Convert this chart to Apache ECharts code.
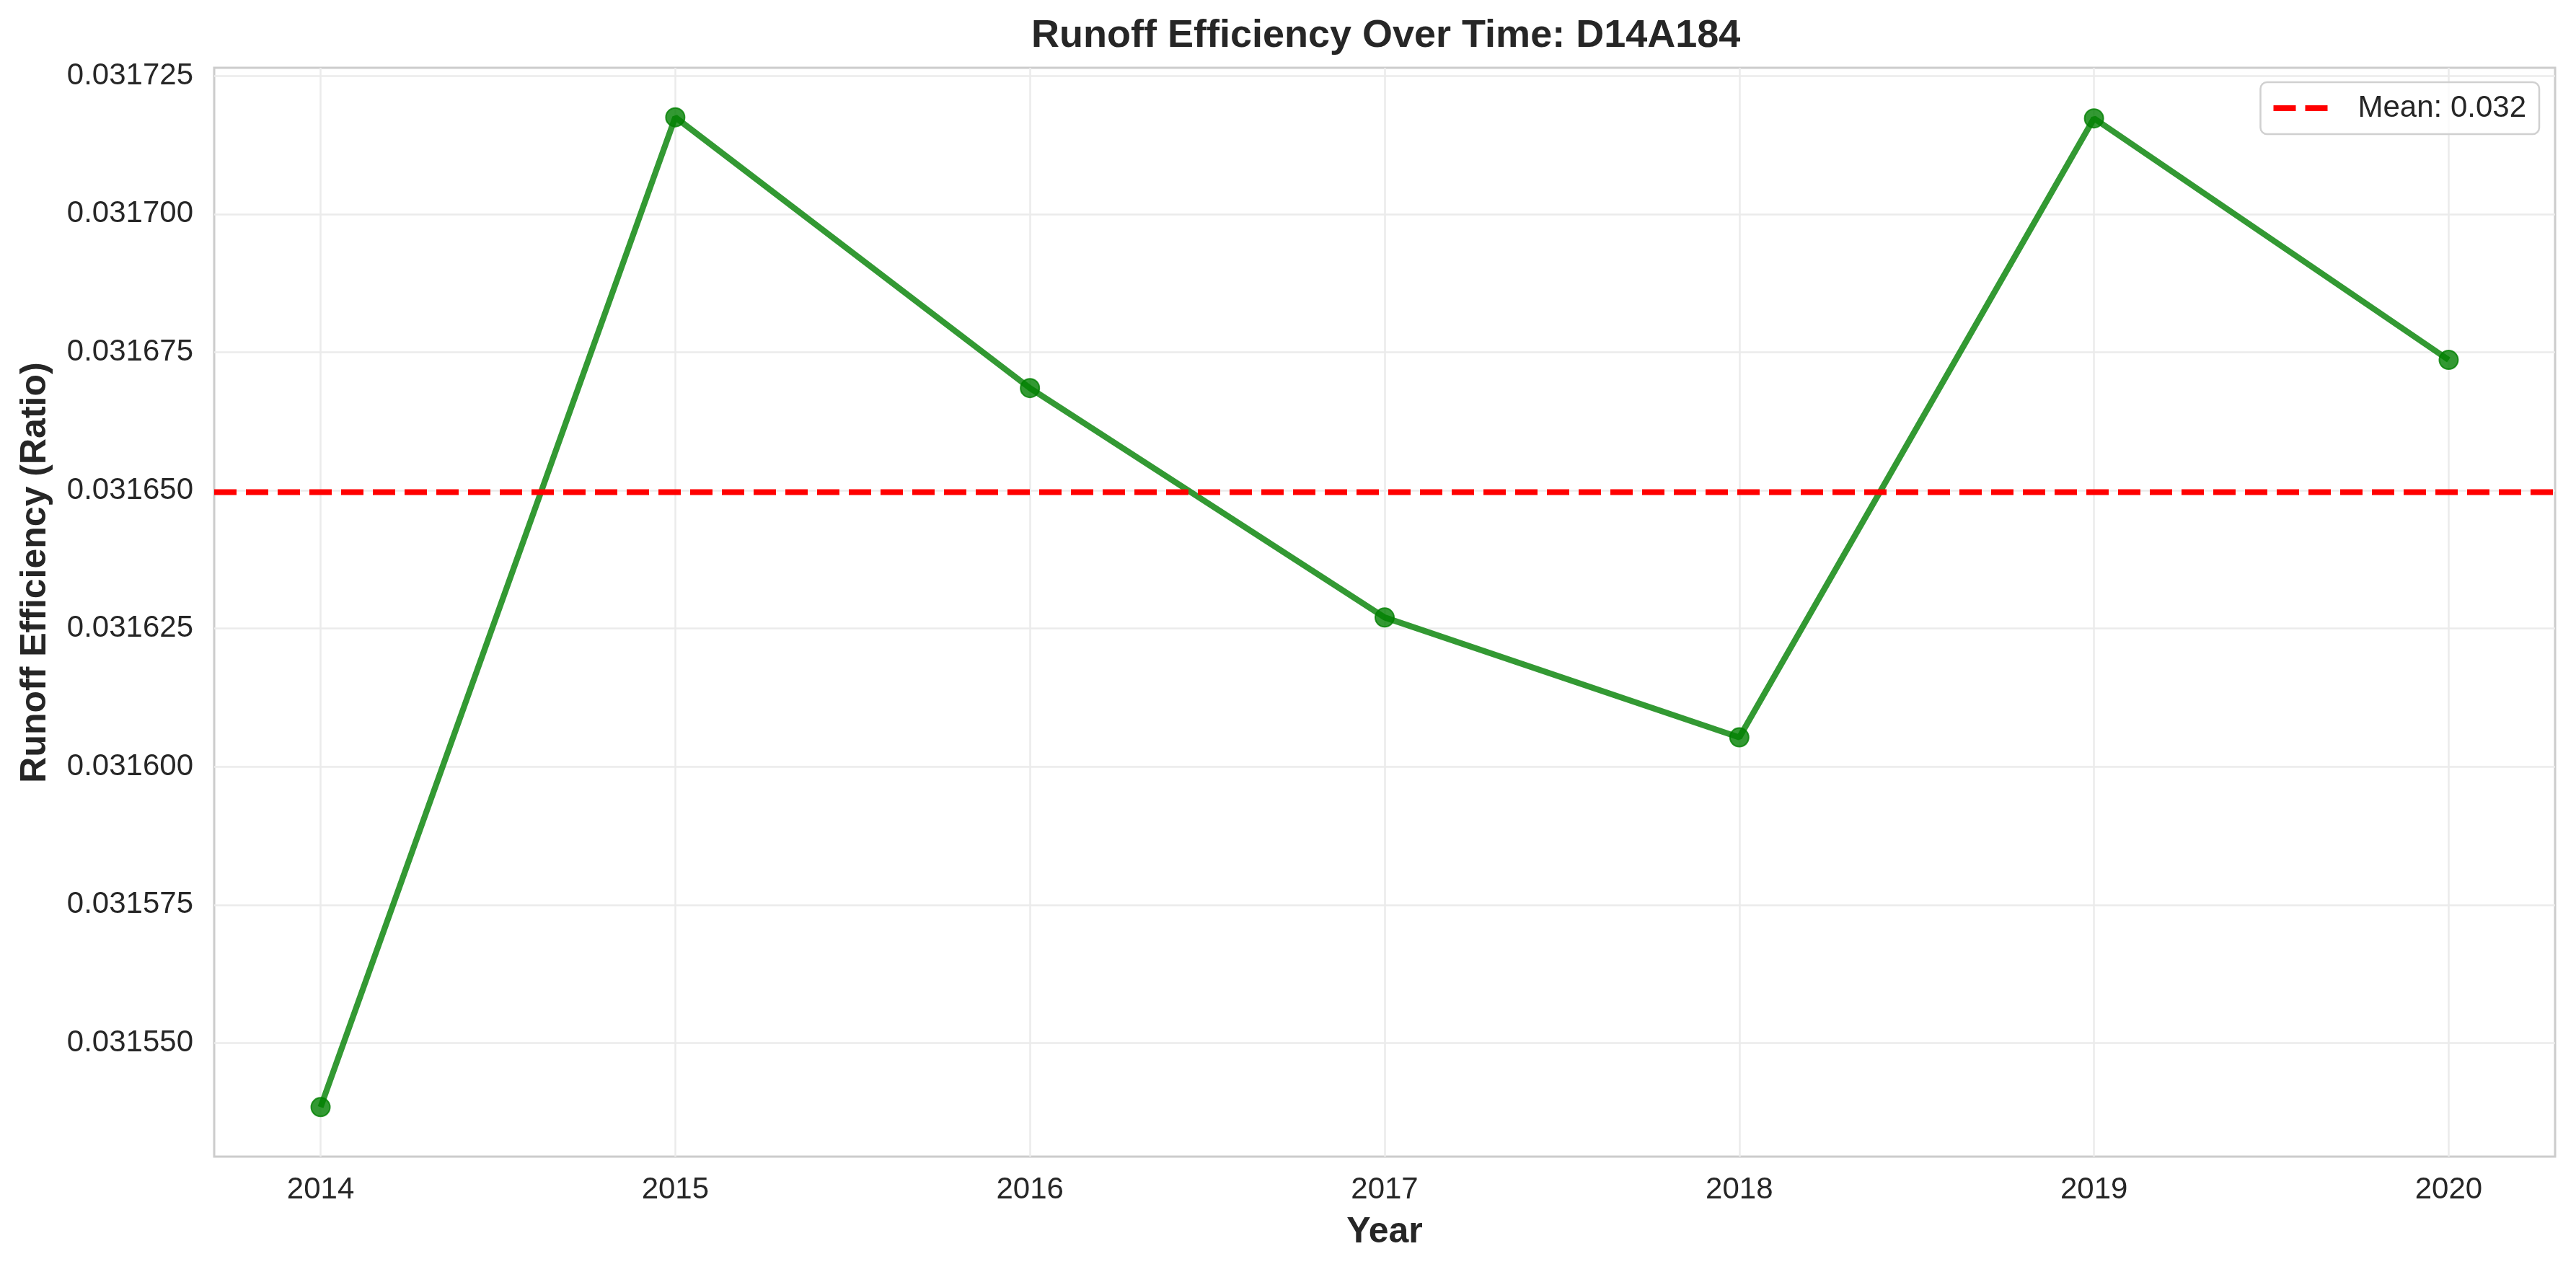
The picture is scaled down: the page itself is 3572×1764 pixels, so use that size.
<!DOCTYPE html>
<html>
<head>
<meta charset="utf-8">
<title>Runoff Efficiency Over Time: D14A184</title>
<script src="https://cdn.jsdelivr.net/npm/echarts@6/dist/echarts.min.js"></script>
<style>
  html, body { margin: 0; padding: 0; background: #fff; }
  #chart { width: 3572px; height: 1764px; }
</style>
</head>
<body>
<div id="chart"></div>
<script>
// values
const years = [2014, 2015, 2016, 2017, 2018, 2019, 2020];
const efficiency = [0.0315384, 0.0317175, 0.0316685, 0.0316270, 0.0316053, 0.0317173, 0.0316736];
const yTicks = [0.031550, 0.031575, 0.031600, 0.031625, 0.031650, 0.031675, 0.031700, 0.031725];

const FONT = 'Liberation Sans, Arial, sans-serif';
const INK = '#262626';

const mean = efficiency.reduce((a, b) => a + b, 0) / efficiency.length;
const meanName = 'Mean: ' + mean.toFixed(3);

// matplotlib style 5% margins around the data
const yLo = Math.min(...efficiency), yHi = Math.max(...efficiency);
const yPad = (yHi - yLo) * 0.05;
const xPad = (years[years.length - 1] - years[0]) * 0.05;
const xMin = years[0] - xPad, xMax = years[years.length - 1] + xPad;

const chart = echarts.init(document.getElementById('chart'));
chart.setOption({
    animation: false,
    backgroundColor: '#ffffff',
    title: {
        text: 'Runoff Efficiency Over Time: D14A184',
        left: 1430,
        top: 23,
        padding: 0,
        textStyle: { fontFamily: FONT, fontSize: 54, fontWeight: 'bold', color: INK },
    },
    legend: {
        data: [meanName],
        right: 51,
        top: 114,
        padding: [15, 18],
        icon: 'path://M0,0h31v8h-31z M44,0h31v8h-31z',
        itemWidth: 75,
        itemHeight: 8,
        backgroundColor: 'rgba(255,255,255,0.8)',
        borderColor: '#d0d0d0',
        borderWidth: 2.5,
        borderRadius: 9,
        textStyle: { fontFamily: FONT, fontSize: 42, color: INK, padding: [0, 0, 0, 37] },
    },
    grid: {
        left: 297, right: 29, top: 94, bottom: 160,
        show: true,
        borderColor: '#cccccc',
        borderWidth: 3,
        containLabel: false,
    },
    xAxis: {
        type: 'value',
        min: xMin,
        max: xMax,
        name: 'Year',
        nameLocation: 'middle',
        nameGap: 80,
        nameTextStyle: { fontFamily: FONT, fontSize: 50, fontWeight: 'bold', color: INK },
        axisLine: { show: false },
        axisTick: { show: false, customValues: years },
        axisLabel: {
            customValues: years,
            margin: 25,
            fontFamily: FONT, fontSize: 42, color: INK,
            formatter: v => String(Math.round(v)),
        },
        splitLine: { show: true, lineStyle: { color: '#ebebeb', width: 2.5 } },
    },
    yAxis: {
        type: 'value',
        min: yLo - yPad,
        max: yHi + yPad,
        name: 'Runoff Efficiency (Ratio)',
        nameLocation: 'middle',
        nameGap: 223,
        nameTextStyle: {
            fontFamily: FONT, fontSize: 50, fontWeight: 'bold', color: INK,
            padding: [0, 0, 0, 110],
        },
        axisLine: { show: false },
        axisTick: { show: false, customValues: yTicks },
        axisLabel: {
            customValues: yTicks,
            margin: 29,
            fontFamily: FONT, fontSize: 42, color: INK,
            formatter: v => v.toFixed(6),
        },
        splitLine: { show: true, lineStyle: { color: '#ebebeb', width: 2.5 } },
    },
    series: [
        {
            // horizontal mean line across the whole plot (axhline)
            name: meanName,
            type: 'line',
            data: [[xMin, mean], [xMax, mean]],
            symbol: 'none',
            color: '#ff0000',
            itemStyle: { color: '#ff0000' },
            lineStyle: { color: '#ff0000', width: 8, type: [31, 13] },
            silent: true,
            z: 4,
        },
        {
            name: 'Runoff Efficiency',
            type: 'line',
            data: years.map((y, i) => [y, efficiency[i]]),
            symbol: 'circle',
            symbolSize: 26,
            lineStyle: { color: '#008000', width: 8.3, opacity: 0.8 },
            itemStyle: { color: '#008000', opacity: 0.8, borderColor: '#008000', borderWidth: 2 },
            z: 3,
        },
    ],
});
</script>
</body>
</html>
